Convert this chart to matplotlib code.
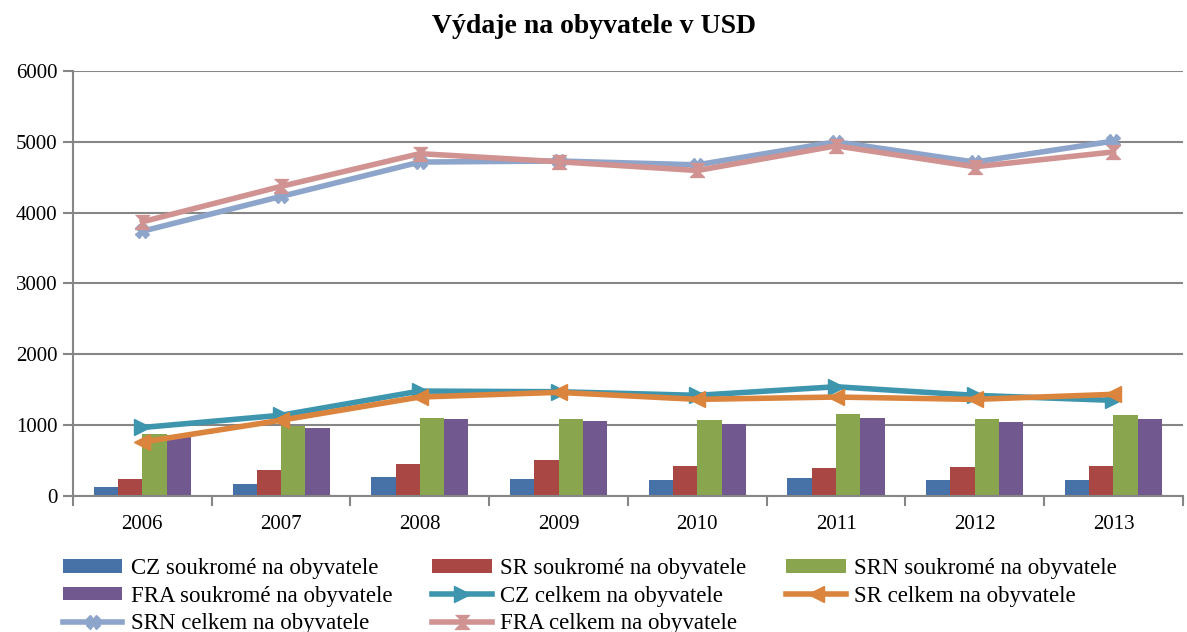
import matplotlib
matplotlib.use("Agg")
import matplotlib.pyplot as plt
import numpy as np

years = ["2006", "2007", "2008", "2009", "2010", "2011", "2012", "2013"]

cz_soukrome = [126, 168, 266, 238, 224, 252, 224, 224]
sr_soukrome = [238, 364, 449, 505, 430, 402, 416, 430]
srn_soukrome = [879, 991, 1103, 1089, 1075, 1159, 1089, 1145]
fra_soukrome = [864, 963, 1089, 1061, 1019, 1103, 1047, 1089]

cz_celkem = [967, 1140, 1481, 1472, 1421, 1542, 1421, 1350]
sr_celkem = [762, 1070, 1397, 1463, 1364, 1397, 1364, 1435]
srn_celkem = [3738, 4229, 4714, 4729, 4675, 5000, 4714, 5010]
fra_celkem = [3871, 4371, 4833, 4719, 4595, 4943, 4648, 4857]

bar_labels = ["CZ soukromé na obyvatele", "SR soukromé na obyvatele",
              "SRN soukromé na obyvatele", "FRA soukromé na obyvatele"]
line_labels = ["CZ celkem na obyvatele", "SR celkem na obyvatele",
               "SRN celkem na obyvatele", "FRA celkem na obyvatele"]

bar_colors = ["#4672A8", "#A94745", "#89A54E", "#71588F"]
line_colors = ["#3D96AE", "#DB843D", "#8EA5CB", "#D09392"]

plt.rcParams['font.family'] = ['Liberation Serif', 'DejaVu Serif']

fig = plt.figure(figsize=(11.87, 6.32), dpi=100)
ax = fig.add_axes([0.0615, 0.2152, 0.935, 0.6725])

x = np.arange(len(years))
bw = 0.175
series = [cz_soukrome, sr_soukrome, srn_soukrome, fra_soukrome]
handles = []
for i, (vals, c, lab) in enumerate(zip(series, bar_colors, bar_labels)):
    h = ax.bar(x + (i - 1.5) * bw, vals, width=bw, color=c, label=lab, zorder=2)
    handles.append(h)

hourglass = [(-1, 1), (1, 1), (0, 0), (1, -1), (-1, -1), (0, 0)]
markers = [">", "<", "X", hourglass]
msizes = [11, 11, 10, 10]
lines = [cz_celkem, sr_celkem, srn_celkem, fra_celkem]
for vals, c, lab, m, ms in zip(lines, line_colors, line_labels, markers, msizes):
    h, = ax.plot(x, vals, color=c, lw=4, marker=m, markersize=ms,
                 markeredgecolor=c, markerfacecolor=c, label=lab, zorder=3)
    handles.append(h)

ax.set_xlim(-0.5, len(years) - 0.5)
ax.set_ylim(0, 6000)
ax.set_yticks(np.arange(0, 6001, 1000))
ax.set_xticks(x)
ax.set_xticklabels(years)
ax.set_xticks(np.arange(-0.5, len(years) + 0.5, 1), minor=True)
ax.tick_params(axis='x', which='major', length=0, labelsize=15, pad=14)
ax.tick_params(axis='x', which='minor', length=7, width=1.5, color='#868686')
ax.tick_params(axis='y', length=7, width=1.5, color='#868686', labelsize=15, pad=4)
ax.yaxis.grid(True, color='#868686', lw=1.5, zorder=0)
ax.set_axisbelow(True)
for s in ['top', 'right']:
    ax.spines[s].set_visible(False)
for s in ['left', 'bottom']:
    ax.spines[s].set_color('#868686')
    ax.spines[s].set_linewidth(1.5)

fig.text(0.5, 0.958, "Výdaje na obyvatele v USD", ha='center', va='center',
         fontsize=20, fontweight='bold')

order = [0, 3, 6, 1, 4, 7, 2, 5]
hs = [handles[i] for i in order]
ls = [(bar_labels + line_labels)[i] for i in order]
fig.legend(hs, ls, ncol=3, loc='upper left', bbox_to_anchor=(0.053, 0.117),
           frameon=False, fontsize=16.5, handlelength=2.6, handleheight=0.55,
           columnspacing=1.75, labelspacing=0.29, handletextpad=0.35,
           borderaxespad=0, borderpad=0)

fig.savefig("out.png", dpi=100)
